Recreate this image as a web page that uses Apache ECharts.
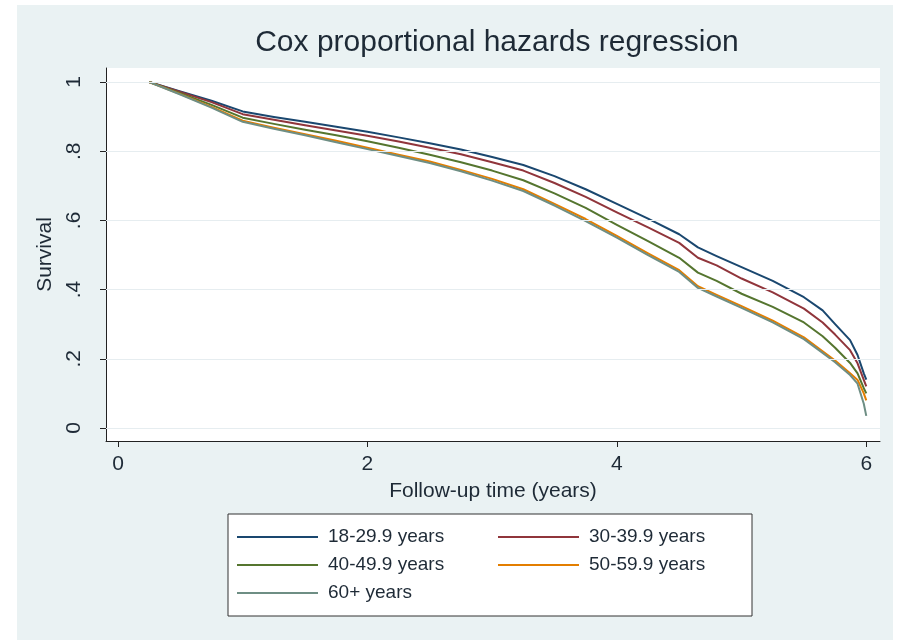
<!DOCTYPE html>
<html><head><meta charset="utf-8">
<script src="https://cdn.jsdelivr.net/npm/echarts@6/dist/echarts.min.js"></script>
<style>
html,body{margin:0;padding:0;background:#ffffff;}
#bg{position:absolute;left:17px;top:5px;width:876px;height:635px;background:#EAF2F3;}
#c{position:absolute;left:0;top:0;width:900px;height:644px;}
</style>
</head><body><div id="bg"></div><div id="c"></div>
<script>
// Follow-up time (years)
const times = [0.25, 0.5, 0.75, 1.0, 1.25, 1.5, 1.75, 2.0, 2.25, 2.5, 2.75, 3.0, 3.25, 3.5, 3.75, 4.0, 4.25, 4.5, 4.65, 4.8, 5.0, 5.25, 5.5, 5.65, 5.75, 5.87, 5.93, 5.98, 6.0];
// Survival by age group
const surv18 = [1.0, 0.973, 0.946, 0.915, 0.899, 0.885, 0.871, 0.856, 0.840, 0.823, 0.805, 0.783, 0.760, 0.728, 0.690, 0.648, 0.605, 0.560, 0.522, 0.497, 0.465, 0.425, 0.378, 0.340, 0.300, 0.254, 0.211, 0.158, 0.14];
const surv30 = [1.0, 0.971, 0.942, 0.907, 0.891, 0.875, 0.860, 0.845, 0.828, 0.810, 0.791, 0.768, 0.744, 0.708, 0.668, 0.623, 0.580, 0.535, 0.492, 0.470, 0.432, 0.392, 0.345, 0.305, 0.270, 0.225, 0.187, 0.139, 0.12];
const surv40 = [1.0, 0.968, 0.934, 0.897, 0.879, 0.862, 0.846, 0.829, 0.810, 0.790, 0.768, 0.744, 0.716, 0.678, 0.636, 0.587, 0.540, 0.492, 0.449, 0.425, 0.388, 0.350, 0.305, 0.265, 0.232, 0.188, 0.158, 0.115, 0.10];
const surv50 = [1.0, 0.965, 0.928, 0.888, 0.868, 0.849, 0.830, 0.810, 0.790, 0.770, 0.746, 0.720, 0.690, 0.648, 0.604, 0.555, 0.505, 0.456, 0.410, 0.385, 0.352, 0.310, 0.262, 0.222, 0.195, 0.158, 0.139, 0.10, 0.08];
const surv60 = [1.0, 0.964, 0.926, 0.885, 0.865, 0.846, 0.826, 0.806, 0.786, 0.766, 0.742, 0.715, 0.685, 0.643, 0.598, 0.550, 0.500, 0.451, 0.405, 0.380, 0.347, 0.305, 0.257, 0.217, 0.190, 0.153, 0.128, 0.07, 0.035];
const groupNames = ['18-29.9 years', '30-39.9 years', '40-49.9 years', '50-59.9 years', '60+ years'];
const xTicks = [0, 2, 4, 6];
const yTicks = [0, 0.2, 0.4, 0.6, 0.8, 1];
const yTickLabels = ['0', '.2', '.4', '.6', '.8', '1'];

const colors = ['#1a476f', '#90353b', '#55752f', '#e37e00', '#6e8e84'];
const allSurv = [surv18, surv30, surv40, surv50, surv60];
const FONT = '"Liberation Sans", Arial, Helvetica, sans-serif';

const series = allSurv.map((arr, i) => ({
  name: groupNames[i],
  type: 'line',
  symbol: 'none',
  smooth: false,
  data: arr.map((v, j) => [times[j], v]),
  lineStyle: { color: colors[i], width: 2, join: 'round' },
  itemStyle: { color: colors[i] },
  z: 3
}));
series.unshift({
  name: 'grid',
  type: 'line',
  data: [],
  silent: true,
  z: 1,
  markLine: {
    silent: true,
    symbol: ['none', 'none'],
    label: { show: false },
    lineStyle: { color: '#E6EDF0', width: 1, type: 'solid' },
    data: yTicks.map(v => ({ yAxis: v }))
  }
});

const chart = echarts.init(document.getElementById('c'), null, { renderer: 'canvas' });
chart.setOption({
  animation: false,
  backgroundColor: 'transparent',
  color: colors,
  textStyle: { fontFamily: FONT },
  title: {
    text: 'Cox proportional hazards regression',
    left: 492, top: 23, textAlign: 'center',
    textStyle: { fontFamily: FONT, fontSize: 30, fontWeight: 'normal', color: '#1e2a36' }
  },
  grid: {
    left: 106, right: 20, top: 68, bottom: 203,
    show: true, backgroundColor: '#ffffff', borderWidth: 0
  },
  xAxis: {
    type: 'value', min: -0.096, max: 6.11,
    name: 'Follow-up time (years)', nameLocation: 'middle', nameGap: 40,
    nameTextStyle: { fontFamily: FONT, fontSize: 21, color: '#1e2a36' },
    axisLine: { show: true, onZero: false, lineStyle: { color: '#222', width: 1 } },
    axisTick: { show: true, length: 6, customValues: xTicks, lineStyle: { color: '#222' } },
    axisLabel: { customValues: xTicks, margin: 13, fontFamily: FONT, fontSize: 21, color: '#1e2a36' },
    splitLine: { show: false }
  },
  yAxis: {
    type: 'value', min: -0.0376, max: 1.0405,
    name: 'Survival', nameLocation: 'middle', nameGap: 37, nameRotate: 90,
    nameTextStyle: { fontFamily: FONT, fontSize: 21, color: '#1e2a36' },
    axisLine: { show: true, onZero: false, lineStyle: { color: '#222', width: 1 } },
    axisTick: { show: true, length: 6, customValues: yTicks, lineStyle: { color: '#222' } },
    axisLabel: {
      customValues: yTicks, rotate: 90, margin: 21, fontFamily: FONT, fontSize: 21, color: '#1e2a36',
      formatter: v => { const k = yTicks.findIndex(t => Math.abs(t - v) < 1e-9); return k >= 0 ? yTickLabels[k] : ''; }
    },
    splitLine: { show: false }
  },
  legend: {
    data: groupNames,
    left: 228, top: 514,
    width: 518,
    orient: 'horizontal',
    icon: 'rect',
    padding: [13, 1, 13, 9],
    itemGap: 8,
    itemWidth: 81, itemHeight: 2,
    backgroundColor: '#ffffff',
    borderColor: '#333', borderWidth: 1, borderRadius: 0,
    textStyle: { fontFamily: FONT, fontSize: 19, color: '#1e2a36', width: 162, padding: [0, 0, 0, 5], lineHeight: 20 }
  },
  series: series
});
</script>
</body></html>
